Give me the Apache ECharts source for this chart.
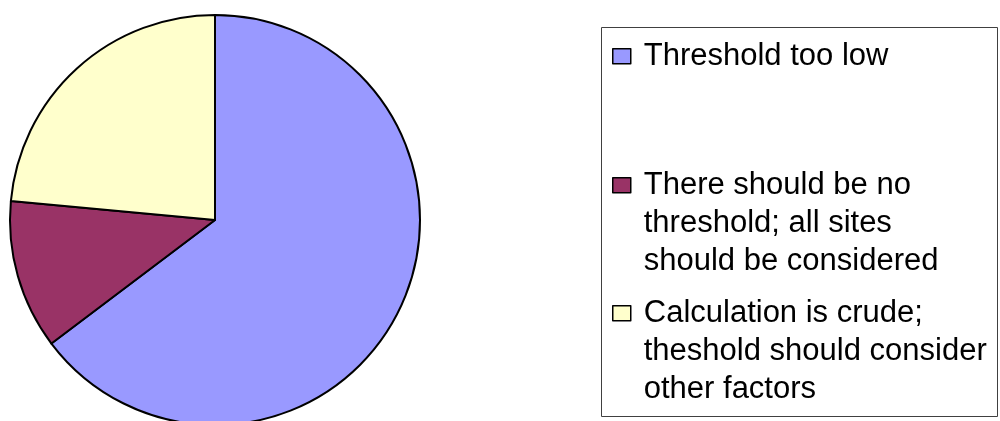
<!DOCTYPE html>
<html>
<head>
<meta charset="utf-8">
<script src="https://cdn.jsdelivr.net/npm/echarts@6/dist/echarts.min.js"></script>
<style>
html,body{margin:0;padding:0;background:#fff;}
#chart{width:1000px;height:421px;}
</style>
</head>
<body>
<div id="chart"></div>
<script>
const categories = [
  'Threshold too low',
  'There should be no threshold; all sites should be considered',
  'Calculation is crude; theshold should consider other factors'
];
const legendLines = [
  ['Threshold too low'],
  ['There should be no', 'threshold; all sites', 'should be considered'],
  ['Calculation is crude;', 'theshold should consider', 'other factors']
];
const values = [11, 2, 4];
const colors = ['#9999FF', '#993366', '#FFFFCC'];

const chart = echarts.init(document.getElementById('chart'), null, {renderer: 'canvas'});
const FONT = 'Liberation Sans, Arial, sans-serif';
const LH = 38;
const SQ_W = 18, SQ_H = 15;
const iconTops = [48, 177, 305];

const legends = categories.map((name, i) => {
  const n = legendLines[i].length;
  const h = n * LH;
  const y0 = (LH - SQ_H) / 2;
  // square sits beside the first text line; the trailing moveTo only extends the icon box
  const icon = 'path://M0,0M0,' + y0 + 'H' + SQ_W + 'V' + (y0 + SQ_H) + 'H0ZM0,' + h;
  return {
    data: [{name: name, icon: icon}],
    orient: 'vertical',
    left: 612,
    top: iconTops[i] - y0,
    padding: 0,
    itemWidth: SQ_W,
    itemHeight: h,
    selectedMode: false,
    itemStyle: {borderColor: '#000', borderWidth: 1.5},
    formatter: () => legendLines[i].join('\n'),
    textStyle: {
      fontFamily: FONT,
      fontSize: 31,
      color: '#000',
      lineHeight: LH,
      padding: [0, 0, 0, 8]
    }
  };
});

chart.setOption({
  animation: false,
  color: colors,
  legend: legends,
  graphic: [{
    type: 'rect',
    shape: {x: 601.5, y: 27.5, width: 396, height: 389},
    style: {fill: 'none', stroke: '#404040', lineWidth: 1},
    silent: true
  }],
  series: [{
    type: 'pie',
    center: [215, 220],
    radius: 205,
    startAngle: 90,
    clockwise: true,
    label: {show: false},
    labelLine: {show: false},
    emphasis: {disabled: true},
    itemStyle: {borderColor: '#000', borderWidth: 2},
    data: categories.map((name, i) => ({name: name, value: values[i], itemStyle: {color: colors[i]}}))
  }]
});
</script>
</body>
</html>
